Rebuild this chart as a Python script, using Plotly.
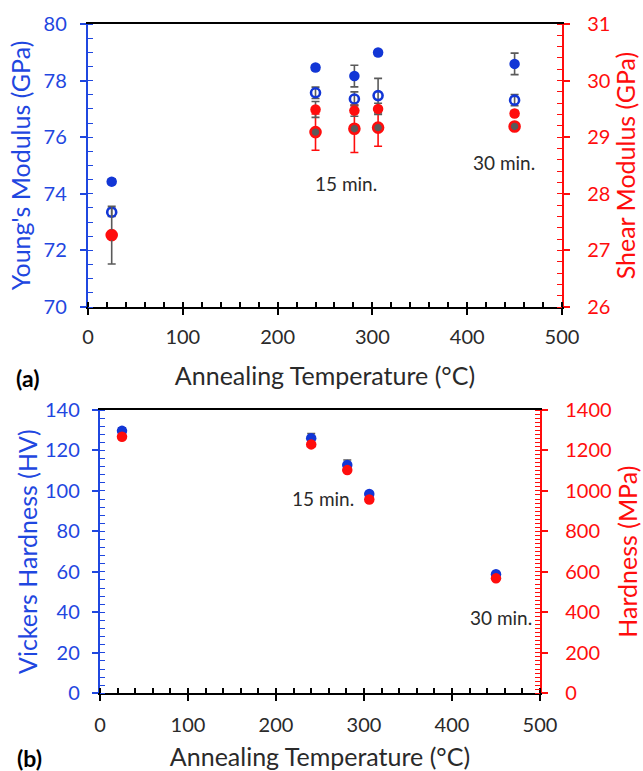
import plotly.graph_objects as go

W, H = 643, 771

# Annealing temperatures (°C)
temp_c = [25, 240, 281, 306, 450]

# (a) Elastic moduli
youngs_filled = [74.43, 78.46, 78.16, 78.99, 78.59]
youngs_filled_err = [0.1, 0.1, 0.38, 0.1, 0.38]
youngs_open = [73.35, 77.57, 77.35, 77.47, 77.31]
youngs_open_err = [0.15, 0.2, 0.25, 0.61, 0.2]
shear_filled = [27.27, 29.49, 29.47, 29.50, 29.42]
shear_filled_err = [0.51, 0.14, 0.1, 0.1, 0.05]
shear_open = [27.27, 29.09, 29.15, 29.17, 29.19]
shear_open_err = [0.05, 0.32, 0.42, 0.33, 0.05]

# (b) Hardness
vickers_hv = [129.7, 126.0, 112.8, 98.5, 58.8]
vickers_hv_err = [1.5, 2.4, 2.5, 1.0, 1.0]
hardness_mpa = [1268, 1230, 1103, 958, 568]

BLUE = "#1236d6"
BLUE_AX = "#1f47e0"
RED = "#ff0d0d"
GRAY = "#5a5a5a"
INK = "#2a2a2a"
FONT = "Lato"
TICK_FS = 20
TITLE_FS = 25


def px_x(a, b):
    return [a / W, b / W]


def px_y(top, bottom):
    return [1 - bottom / H, 1 - top / H]


def err_bars(arr, color=GRAY):
    return dict(type="data", array=arr, color=color, thickness=1.6, width=4)


fig = go.Figure()

# ---- panel (a) ----
fig.add_trace(go.Scatter(x=temp_c, y=youngs_open, mode="markers", xaxis="x", yaxis="y",
                         error_y=err_bars(youngs_open_err),
                         marker=dict(symbol="circle-open", size=9, color=BLUE,
                                     line=dict(width=2.6, color=BLUE)),
                         showlegend=False))
fig.add_trace(go.Scatter(x=temp_c, y=youngs_filled, mode="markers", xaxis="x", yaxis="y",
                         error_y=err_bars(youngs_filled_err),
                         marker=dict(symbol="circle", size=10.5, color=BLUE),
                         showlegend=False))
fig.add_trace(go.Scatter(x=temp_c, y=shear_open, mode="markers", xaxis="x", yaxis="y3",
                         error_y=err_bars(shear_open_err, RED),
                         marker=dict(symbol="circle", size=10, color=GRAY,
                                     line=dict(width=2.6, color=RED)),
                         showlegend=False))
fig.add_trace(go.Scatter(x=temp_c, y=shear_filled, mode="markers", xaxis="x", yaxis="y3",
                         error_y=err_bars(shear_filled_err),
                         marker=dict(symbol="circle", size=10.5, color=RED),
                         showlegend=False))

# ---- panel (b) ----
fig.add_trace(go.Scatter(x=temp_c, y=vickers_hv, mode="markers", xaxis="x2", yaxis="y2",
                         error_y=err_bars(vickers_hv_err),
                         marker=dict(symbol="circle", size=10.5, color=BLUE),
                         showlegend=False))
fig.add_trace(go.Scatter(x=temp_c, y=hardness_mpa, mode="markers", xaxis="x2", yaxis="y4",
                         marker=dict(symbol="circle", size=10.5, color=RED),
                         showlegend=False))


def x_axis(domain, anchor, tick_gap, title_gap):
    return dict(domain=domain, anchor=anchor, range=[0, 500], tick0=0, dtick=100,
                automargin=False,
                ticks="outside", ticklen=6, tickwidth=2, tickcolor="black",
                showline=True, linecolor="black", linewidth=2, mirror=True,
                showgrid=False, zeroline=False,
                tickfont=dict(family=FONT, size=TICK_FS, color=INK),
                ticklabelstandoff=tick_gap,
                minor=dict(ticks="inside", dtick=20, ticklen=5, tickwidth=1.5,
                           tickcolor="black"),
                title=dict(text="Annealing Temperature (°C)",
                           font=dict(family=FONT, size=TITLE_FS, color=INK),
                           standoff=title_gap))


def y_axis(domain, anchor, rng, dtick, mdtick, color, title, tick_gap, title_gap,
           side="left", overlay=None):
    d = dict(domain=domain, anchor=anchor, range=rng, tick0=rng[0], dtick=dtick, side=side,
             automargin=False,
             ticks="outside", ticklen=6, tickwidth=2, tickcolor=color,
             showline=True, linecolor=color, linewidth=2.4,
             showgrid=False, zeroline=False,
             tickfont=dict(family=FONT, size=TICK_FS, color=color),
             ticklabelstandoff=tick_gap,
             minor=dict(ticks="inside", dtick=mdtick, ticklen=5, tickwidth=1.2,
                        tickcolor=color),
             title=dict(text=title, font=dict(family=FONT, size=TITLE_FS, color=color),
                        standoff=title_gap))
    if overlay:
        d["overlaying"] = overlay
    return d


def inner_ticks(base, domain, anchor, rng, dtick, color, side=None):
    """Twin axis that only draws the inward half of the major ticks (crossing ticks)."""
    d = dict(domain=domain, anchor=anchor, overlaying=base, range=rng, tick0=rng[0],
             dtick=dtick, ticks="inside", ticklen=6, tickwidth=2, tickcolor=color,
             showticklabels=False, showline=False, showgrid=False, zeroline=False,
             automargin=False)
    if side:
        d["side"] = side
    return d


dom_x_a = px_x(88, 562)
dom_y_a = px_y(24, 307)
dom_x_b = px_x(100, 540)
dom_y_b = px_y(410, 693.3)

fig.update_layout(
    width=W, height=H,
    margin=dict(l=0, r=0, t=0, b=0, pad=0, autoexpand=False),
    paper_bgcolor="white", plot_bgcolor="white",
    font=dict(family=FONT, size=TICK_FS),
    xaxis=x_axis(dom_x_a, "y", 5, 20),
    yaxis=y_axis(dom_y_a, "x", [70, 80], 2, 0.5, BLUE_AX, "Young's Modulus (GPa)", 9, 6),
    yaxis3=y_axis(dom_y_a, "x", [26, 31], 1, 0.2, RED, "Shear Modulus (GPa)", 13, 8,
                  side="right", overlay="y"),
    xaxis2=x_axis(dom_x_b, "y2", 7, 17),
    yaxis2=y_axis(dom_y_b, "x2", [0, 140], 20, 4, BLUE_AX, "Vickers Hardness (HV)", 8, 0),
    yaxis4=y_axis(dom_y_b, "x2", [0, 1400], 200, 20, RED, "Hardness (MPa)", 13, 9,
                  side="right", overlay="y2"),
    xaxis3=inner_ticks("x", dom_x_a, "y", [0, 500], 100, "black"),
    xaxis4=inner_ticks("x2", dom_x_b, "y2", [0, 500], 100, "black"),
    yaxis5=inner_ticks("y", dom_y_a, "x", [70, 80], 2, BLUE_AX),
    yaxis6=inner_ticks("y", dom_y_a, "x", [26, 31], 1, RED, side="right"),
    yaxis7=inner_ticks("y2", dom_y_b, "x2", [0, 140], 20, BLUE_AX),
    yaxis8=inner_ticks("y2", dom_y_b, "x2", [0, 1400], 200, RED, side="right"),
)

note_font = dict(family=FONT, size=19, color=INK)
fig.add_annotation(x=272, y=74.38, xref="x", yref="y", text="15 min.",
                   showarrow=False, font=note_font)
fig.add_annotation(x=439, y=75.09, xref="x", yref="y", text="30 min.",
                   showarrow=False, font=note_font)
fig.add_annotation(x=253, y=96.5, xref="x2", yref="y2", text="15 min.",
                   showarrow=False, font=note_font)
fig.add_annotation(x=456, y=37.7, xref="x2", yref="y2", text="30 min.",
                   showarrow=False, font=note_font)

label_font = dict(family=FONT, size=23, color="black")
fig.add_annotation(x=27 / W, y=1 - 378 / H, xref="paper", yref="paper", text="<b>(a)</b>",
                   xanchor="center", yanchor="middle", showarrow=False, font=label_font)
fig.add_annotation(x=29 / W, y=1 - 758 / H, xref="paper", yref="paper", text="<b>(b)</b>",
                   xanchor="center", yanchor="middle", showarrow=False, font=label_font)

fig.write_html("out.html")
